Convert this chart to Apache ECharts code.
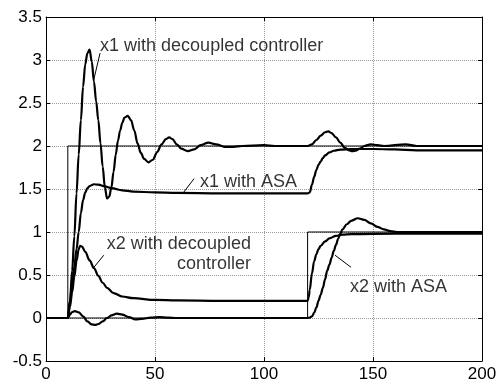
<!DOCTYPE html>
<html>
<head>
<meta charset="utf-8">
<script src="https://cdn.jsdelivr.net/npm/echarts@6/dist/echarts.min.js"></script>
<style>
  html, body { margin: 0; padding: 0; background: #fff; }
  #chart { width: 502px; height: 383px; }
</style>
</head>
<body>
<div id="chart"></div>
<script>
// reference steps
const tRef1 = [0, 10, 10, 200];
const vRef1 = [0, 0, 2, 2];
const tRef2 = [0, 120, 120, 200];
const vRef2 = [0, 0, 1, 1];

// x1 with decoupled controller
const tX1Dec = [0, 10, 11, 12, 13, 14, 15, 16, 17, 18, 19, 20, 21, 22, 23, 24, 25, 26, 27, 28, 29, 30, 31, 32, 33, 34, 35, 36, 37.5, 39, 40.5, 42, 43.5, 45, 47, 49, 51, 53, 55, 56.5, 58, 60, 62, 65, 68, 71, 74.5, 78, 82, 86, 90, 100, 105, 110, 120, 122, 124, 126, 128, 129.5, 131, 133, 135, 137, 139, 140.5, 142, 144, 146, 149, 152, 155, 165, 170, 200];
const vX1Dec = [0, 0, 0.2, 0.55, 0.95, 1.45, 1.9, 2.3, 2.69, 2.95, 3.08, 3.12, 2.98, 2.75, 2.52, 2.3, 2.03, 1.76, 1.52, 1.39, 1.41, 1.52, 1.7, 1.9, 2.06, 2.18, 2.27, 2.33, 2.35, 2.3, 2.18, 2.03, 1.92, 1.85, 1.81, 1.84, 1.93, 2.02, 2.08, 2.1, 2.08, 2.02, 1.97, 1.94, 1.96, 2.01, 2.04, 2.02, 1.99, 1.99, 2.0, 2.01, 2.0, 2.0, 2.0, 2.02, 2.07, 2.12, 2.16, 2.17, 2.15, 2.1, 2.04, 1.98, 1.95, 1.94, 1.945, 1.97, 2.0, 2.02, 2.01, 2.0, 2.02, 2.0, 2.0];

// x1 with ASA
const tX1Asa = [0, 10, 11, 12, 13, 14, 15, 16, 17, 18, 19, 20, 22, 24, 27, 30, 35, 40, 50, 60, 80, 100, 120, 121, 122, 123, 124, 125, 126, 127, 128, 130, 132, 135, 140, 150, 160, 170, 200];
const vX1Asa = [0, 0, 0.2, 0.4, 0.6, 0.8, 1.0, 1.22, 1.37, 1.46, 1.51, 1.535, 1.555, 1.55, 1.53, 1.51, 1.485, 1.47, 1.46, 1.455, 1.45, 1.45, 1.45, 1.46, 1.55, 1.64, 1.72, 1.78, 1.82, 1.86, 1.89, 1.925, 1.945, 1.958, 1.965, 1.965, 1.96, 1.95, 1.95];

// x2 with decoupled controller
const tX2Dec = [0, 10, 11, 12, 13, 14, 15, 15.6, 16.5, 18, 20, 22, 24, 26, 28, 31, 35, 40, 50, 60, 80, 100, 120, 120.5, 121, 122, 123, 124, 125, 126, 128, 130, 133, 136, 140, 160, 200];
const vX2Dec = [0, 0, 0.13, 0.3, 0.48, 0.66, 0.8, 0.84, 0.83, 0.77, 0.67, 0.58, 0.49, 0.41, 0.35, 0.29, 0.25, 0.23, 0.21, 0.205, 0.2, 0.2, 0.2, 0.24, 0.33, 0.52, 0.66, 0.74, 0.8, 0.84, 0.89, 0.925, 0.955, 0.97, 0.975, 0.98, 0.98];

// x2 with ASA
const tX2Asa = [0, 10, 11, 12, 13.3, 15, 17, 19, 21, 22.5, 24, 26, 28, 30, 32.5, 35, 38, 41, 44, 48, 52, 56, 60, 80, 100, 120, 121, 122, 123, 124, 125, 126, 127, 128, 129, 130, 131, 132, 133, 134, 135, 136, 138, 140, 143, 146, 149, 152, 155, 158, 161, 200];
const vX2Asa = [0, 0, 0.04, 0.07, 0.08, 0.065, 0.02, -0.04, -0.075, -0.08, -0.07, -0.04, 0, 0.03, 0.05, 0.04, 0.01, -0.015, -0.01, 0.005, 0.01, 0.005, 0, 0, 0, 0, 0.005, 0.02, 0.06, 0.12, 0.2, 0.27, 0.35, 0.45, 0.55, 0.62, 0.7, 0.78, 0.85, 0.92, 0.98, 1.03, 1.09, 1.13, 1.16, 1.14, 1.1, 1.06, 1.03, 1.01, 1.0, 1.0];

// annotations: text, anchor [t, v], alignment
const noteTexts = ['x1 with decoupled controller', 'x1 with ASA', 'x2 with decoupled\ncontroller', 'x2 with ASA'];
const noteAnchors = [[24.8, 3.16], [70.6, 1.58], [94, 0.74], [139.4, 0.36]];
const noteAligns = ['left', 'left', 'right', 'left'];
// leader lines: from [t, v] to [t, v]
const leaderFrom = [[24.8, 3.08], [67.9, 1.62], [26.5, 0.73], [139.9, 0.59]];
const leaderTo = [[22.0, 2.78], [62.8, 1.45], [22.0, 0.59], [132.6, 0.73]];

const FONT = "'Liberation Sans', Arial, sans-serif";
const zip = (t, v) => t.map((x, i) => [x, v[i]]);

const chart = echarts.init(document.getElementById('chart'));

const axisBase = {
  type: 'value',
  axisLine: { show: true, onZero: false, lineStyle: { color: '#000', width: 1 } },
  axisTick: { show: true, inside: true, length: 4, lineStyle: { color: '#000' } },
};

function curve(name, t, v, width) {
  return {
    name,
    type: 'line',
    data: zip(t, v),
    showSymbol: false,
    symbol: 'none',
    smooth: width > 1 ? 0.35 : false,
    smoothMonotone: 'x',
    lineStyle: { color: '#000', width },
    animation: false,
    z: width > 1 ? 3 : 2,
  };
}

const option = {
  animation: false,
  grid: { left: 46, right: 20, top: 17, bottom: 22 },
  xAxis: [
    Object.assign({}, axisBase, {
      position: 'bottom', min: 0, max: 200, interval: 50,
      axisLabel: { color: '#000', fontSize: 17, fontFamily: FONT, margin: 5 },
      splitLine: { show: true, lineStyle: { color: '#999', type: 'dotted', width: 1 } },
    }),
    Object.assign({}, axisBase, {
      position: 'top', min: 0, max: 200, interval: 50,
      axisLabel: { show: false }, splitLine: { show: false },
    }),
  ],
  yAxis: [
    Object.assign({}, axisBase, {
      position: 'left', min: -0.5, max: 3.5, interval: 0.5,
      axisLabel: { color: '#000', fontSize: 17, fontFamily: FONT, margin: 4 },
      splitLine: { show: true, lineStyle: { color: '#999', type: 'dotted', width: 1 } },
    }),
    Object.assign({}, axisBase, {
      position: 'right', min: -0.5, max: 3.5, interval: 0.5,
      axisLabel: { show: false }, splitLine: { show: false },
    }),
  ],
  series: [
    curve('ref x1', tRef1, vRef1, 1),
    curve('ref x2', tRef2, vRef2, 1),
    curve('x1 with decoupled controller', tX1Dec, vX1Dec, 2.2),
    curve('x1 with ASA', tX1Asa, vX1Asa, 2.2),
    curve('x2 with decoupled controller', tX2Dec, vX2Dec, 2.2),
    curve('x2 with ASA', tX2Asa, vX2Asa, 2.2),
    {
      name: 'notes',
      type: 'scatter',
      symbolSize: 0,
      animation: false,
      z: 5,
      data: noteTexts.map((txt, i) => ({
        value: noteAnchors[i],
        label: {
          show: true,
          formatter: txt,
          position: [0, 0],
          align: noteAligns[i],
          verticalAlign: 'middle',
          color: '#000',
          fontSize: 18,
          lineHeight: 20,
          fontFamily: FONT,
        },
      })),
      markLine: {
        silent: true,
        symbol: ['none', 'none'],
        animation: false,
        label: { show: false },
        lineStyle: { color: '#000', width: 1, type: 'solid' },
        data: leaderFrom.map((p, i) => [{ coord: p }, { coord: leaderTo[i] }]),
      },
    },
  ],
};

chart.setOption(option);
</script>
</body>
</html>
